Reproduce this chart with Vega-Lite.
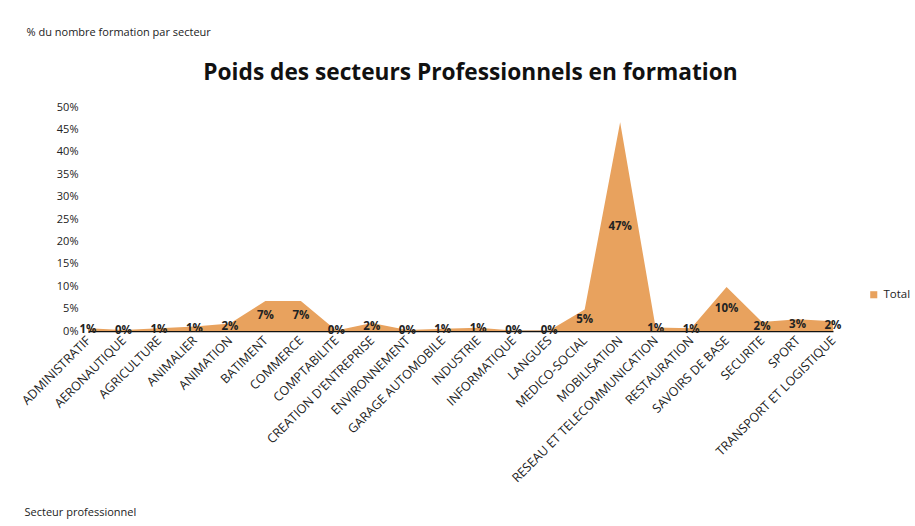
{
  "$schema": "https://vega.github.io/schema/vega-lite/v6.json",
  "autosize": "none",
  "width": 745,
  "height": 224,
  "padding": {"left": 88, "top": 107, "right": 82, "bottom": 195},
  "background": "white",
  "config": {
    "font": "Open Sans",
    "view": {"stroke": null}
  },
  "title": {
    "text": "Poids des secteurs Professionnels en formation",
    "font": "Open Sans",
    "fontSize": 22.7,
    "fontWeight": "bold",
    "color": "#111111",
    "anchor": "middle",
    "frame": "group",
    "dx": 10,
    "offset": -59
  },
  "data": {
    "values": [
      {"secteur": "ADMINISTRATIF", "part": 0.006},
      {"secteur": "AERONAUTIQUE", "part": 0.002},
      {"secteur": "AGRICULTURE", "part": 0.006},
      {"secteur": "ANIMALIER", "part": 0.01},
      {"secteur": "ANIMATION", "part": 0.017},
      {"secteur": "BATIMENT", "part": 0.067},
      {"secteur": "COMMERCE", "part": 0.067},
      {"secteur": "COMPTABILITE", "part": 0.001},
      {"secteur": "CREATION D'ENTREPRISE", "part": 0.018},
      {"secteur": "ENVIRONNEMENT", "part": 0.002},
      {"secteur": "GARAGE AUTOMOBILE", "part": 0.005},
      {"secteur": "INDUSTRIE", "part": 0.007},
      {"secteur": "INFORMATIQUE", "part": 0.001},
      {"secteur": "LANGUES", "part": 0.001},
      {"secteur": "MEDICO-SOCIAL", "part": 0.048},
      {"secteur": "MOBILISATION", "part": 0.466},
      {"secteur": "RESEAU ET TELECOMMUNICATION", "part": 0.008},
      {"secteur": "RESTAURATION", "part": 0.006},
      {"secteur": "SAVOIRS DE BASE", "part": 0.098},
      {"secteur": "SECURITE", "part": 0.02},
      {"secteur": "SPORT", "part": 0.026},
      {"secteur": "TRANSPORT ET LOGISTIQUE", "part": 0.022}
    ]
  },
  "encoding": {
    "x": {
      "field": "secteur",
      "type": "nominal",
      "sort": null,
      "scale": {"type": "point", "padding": 0},
      "axis": {
        "title": "Secteur professionnel",
        "titleFont": "Open Sans",
        "titleFontSize": 11,
        "titleFontWeight": "normal",
        "titleColor": "#222222",
        "titleAlign": "left",
        "titleBaseline": "middle",
        "titleAnchor": "start",
        "titleX": -64,
        "titleY": 181,
        "labelAngle": -45,
        "labelAlign": "right",
        "labelBaseline": "middle",
        "labelFontSize": 12.5,
        "labelColor": "#222222",
        "labelPadding": 7,
        "labelLimit": 400,
        "ticks": false,
        "grid": false,
        "domainColor": "#111111",
        "domainWidth": 1.5,
        "labelOverlap": false
      }
    }
  },
  "layer": [
    {
      "mark": {"type": "area", "interpolate": "linear", "opacity": 1},
      "encoding": {
        "y": {
          "field": "part",
          "type": "quantitative",
          "scale": {"domain": [0, 0.5], "nice": false},
          "axis": {
            "title": "% du nombre formation par secteur",
            "titleFont": "Open Sans",
            "titleFontSize": 11,
            "titleFontWeight": "normal",
            "titleColor": "#222222",
            "titleAngle": 0,
            "titleAlign": "left",
            "titleBaseline": "middle",
            "titleX": -62,
            "titleY": -75,
            "format": ".0%",
            "values": [0, 0.05, 0.1, 0.15, 0.2, 0.25, 0.3, 0.35, 0.4, 0.45, 0.5],
            "labelFontSize": 11,
            "labelColor": "#222222",
            "labelPadding": 10,
            "ticks": false,
            "domain": false,
            "grid": false
          }
        },
        "color": {
          "datum": "Total",
          "type": "nominal",
          "scale": {"range": ["#E8A25E"]},
          "legend": {
            "title": null,
            "orient": "none",
            "legendX": 780,
            "legendY": 182,
            "symbolType": "square",
            "symbolSize": 50,
            "labelFontSize": 11.5,
            "labelColor": "#222222",
            "labelFont": "Open Sans"
          }
        }
      }
    },
    {
      "mark": {"type": "text", "fontWeight": "bold", "fontSize": 11.5, "color": "#222222", "baseline": "middle"},
      "encoding": {
        "y": {
          "field": "part",
          "type": "quantitative",
          "scale": {"domain": [0, 1], "nice": false},
          "axis": null
        },
        "text": {"field": "part", "type": "quantitative", "format": ".0%"}
      }
    }
  ],
  "resolve": {"scale": {"y": "independent"}}
}
